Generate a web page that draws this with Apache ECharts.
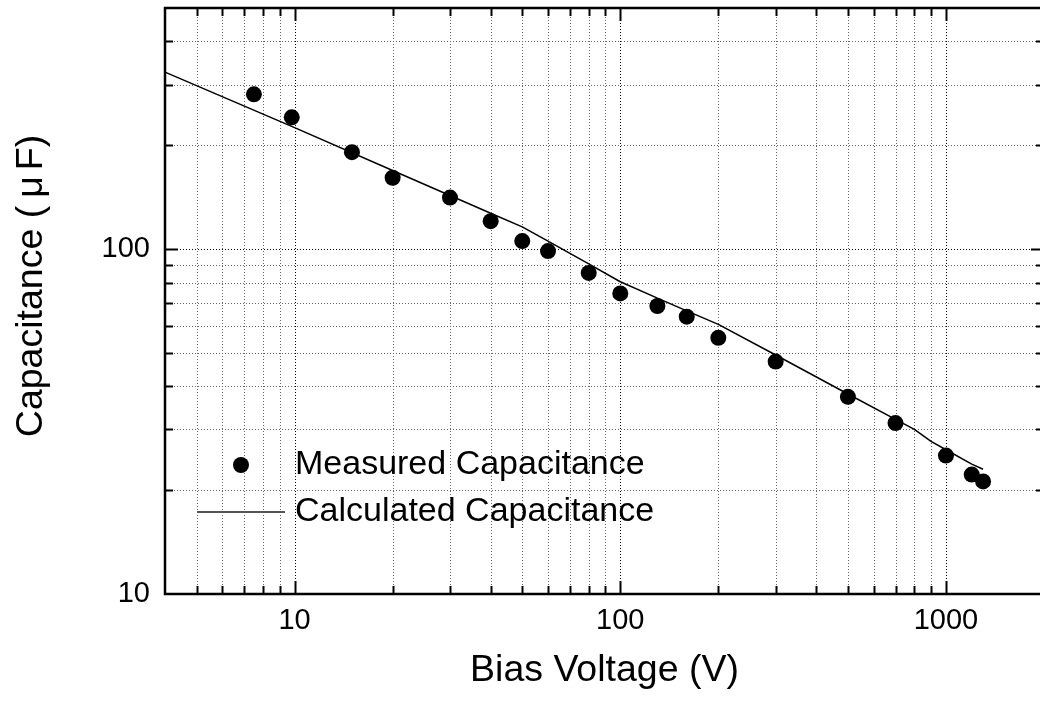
<!DOCTYPE html>
<html>
<head>
<meta charset="utf-8">
<script src="https://cdn.jsdelivr.net/npm/echarts@6/dist/echarts.min.js"></script>
<style>
html,body{margin:0;padding:0;background:#fff;}
#chart{width:1040px;height:705px;}
</style>
</head>
<body>
<div id="chart"></div>
<script>
// ---- data ----
const measuredVoltage = [7.5, 9.8, 15, 20, 30, 40, 50, 60, 80, 100, 130, 160, 200, 300, 500, 700, 1000, 1200, 1300];
const measuredCap     = [281, 241, 191, 161, 141, 120.5, 105.5, 98.7, 85.3, 74.4, 68.4, 63.7, 55.3, 47.2, 37.3, 31.3, 25.2, 22.2, 21.2];
const calcVoltage = [4, 10, 20, 30, 40, 50, 60, 80, 100, 130, 160, 200, 300, 500, 700, 800, 900, 1000, 1200, 1300];
const calcCap     = [326, 225, 169, 143, 127, 116, 105.4, 90.6, 80.4, 72.1, 66.2, 60.5, 49.3, 38.0, 32.1, 30.0, 27.7, 26.2, 23.8, 23.0];
const xTickLabels = [10, 100, 1000];
const yTickLabels = [10, 100];
const xMajorTicks = [10, 100, 1000];
const xMinorTicks = [5, 6, 7, 8, 9, 20, 30, 40, 50, 60, 70, 80, 90, 200, 300, 400, 500, 600, 700, 800, 900];
const yMajorTicks = [100];
const yMinorTicks = [20, 30, 40, 50, 60, 70, 80, 90, 200, 300, 400];
const xRange = [4, 2000];
const yRange = [10, 500];
const seriesNames = ['Measured Capacitance', 'Calculated Capacitance'];
const xTitle = 'Bias Voltage (V)';
const yTitleParts = ['Capacitance (', '\u03bc', 'F)'];

// ---- build ----
const FONT = '"Liberation Sans", Arial, sans-serif';
const gridItems = [];
xMajorTicks.forEach(v => gridItems.push([v, yRange[0], 0, 1]));
xMinorTicks.forEach(v => gridItems.push([v, yRange[0], 0, 0]));
yMajorTicks.forEach(v => gridItems.push([xRange[0], v, 1, 1]));
yMinorTicks.forEach(v => gridItems.push([xRange[0], v, 1, 0]));

function renderGrid(params, api) {
  const cs = params.coordSys;
  const isY = api.value(2) === 1;
  const major = api.value(3) === 1;
  const pt = api.coord([api.value(0), api.value(1)]);
  const len = major ? 13 : 8;
  const gridStyle = {stroke: major ? '#000' : '#666', lineWidth: 1, lineDash: [1, 2]};
  const tickStyle = {stroke: '#000', lineWidth: 2};
  const children = [];
  if (!isY) {
    const x = Math.round(pt[0]) + 0.5;
    children.push({type: 'line', shape: {x1: x, y1: cs.y, x2: x, y2: cs.y + cs.height}, style: gridStyle});
    children.push({type: 'line', shape: {x1: x, y1: cs.y, x2: x, y2: cs.y + len}, style: tickStyle});
    children.push({type: 'line', shape: {x1: x, y1: cs.y + cs.height - len, x2: x, y2: cs.y + cs.height}, style: tickStyle});
  } else {
    const y = Math.round(pt[1]) + 0.5;
    children.push({type: 'line', shape: {x1: cs.x, y1: y, x2: cs.x + cs.width, y2: y}, style: gridStyle});
    children.push({type: 'line', shape: {x1: cs.x, y1: y, x2: cs.x + len, y2: y}, style: tickStyle});
    children.push({type: 'line', shape: {x1: cs.x + cs.width - len, y1: y, x2: cs.x + cs.width, y2: y}, style: tickStyle});
  }
  return {type: 'group', children: children};
}

const chart = echarts.init(document.getElementById('chart'), null, {renderer: 'canvas'});
chart.setOption({
  animation: false,
  backgroundColor: '#fff',
  textStyle: {fontFamily: FONT},
  grid: {
    left: 165, right: -4, top: 8, bottom: 111,
    show: true, borderColor: '#000', borderWidth: 2.5, backgroundColor: 'transparent',
    containLabel: false, outerBoundsMode: 'none'
  },
  legend: {
    orient: 'vertical', left: 196, top: 448, padding: 0,
    itemWidth: 88, itemHeight: 16, itemGap: 13,
    textStyle: {fontSize: 34, color: '#000', fontFamily: FONT, padding: [0, 0, 0, 5]},
    data: [
      {name: seriesNames[0], icon: 'circle', itemStyle: {color: '#000', opacity: 1}},
      {name: seriesNames[1], itemStyle: {color: 'rgba(0,0,0,0)', opacity: 0, borderWidth: 0},
       lineStyle: {color: '#555', width: 2, opacity: 1}}
    ]
  },
  xAxis: {
    type: 'log', logBase: 10, min: xRange[0], max: xRange[1],
    name: xTitle, nameLocation: 'middle', nameGap: 58,
    nameTextStyle: {fontSize: 37.5, color: '#000', fontFamily: FONT},
    axisLine: {show: false}, axisTick: {show: false}, splitLine: {show: false}, minorTick: {show: false},
    axisLabel: {
      fontSize: 29, color: '#000', fontFamily: FONT, margin: 12,
      formatter: v => { const r = Math.round(v); return xTickLabels.includes(r) ? String(r) : ''; }
    }
  },
  yAxis: {
    type: 'log', logBase: 10, min: yRange[0], max: yRange[1],
    name: yTitleParts[0] + '{m|' + yTitleParts[1] + '}' + yTitleParts[2],
    nameLocation: 'middle', nameGap: 114, nameRotate: 90,
    nameTextStyle: {
      fontSize: 37.5, color: '#000', fontFamily: FONT, padding: [0, 0, 0, 30],
      rich: {m: {fontSize: 37.5, color: '#000', fontFamily: FONT, padding: [0, 6, 0, 8]}}
    },
    axisLine: {show: false}, axisTick: {show: false}, splitLine: {show: false}, minorTick: {show: false},
    axisLabel: {
      fontSize: 29, color: '#000', fontFamily: FONT, margin: 15,
      formatter: v => { const r = Math.round(v); return yTickLabels.includes(r) ? String(r) : ''; }
    }
  },
  series: [
    {
      type: 'custom', name: '__grid', renderItem: renderGrid, data: gridItems,
      encode: {x: 0, y: 1}, z: 1, silent: true, clip: false
    },
    {
      type: 'scatter', name: seriesNames[0],
      data: measuredVoltage.map((v, i) => [v, measuredCap[i]]),
      symbol: 'circle', symbolSize: 16, itemStyle: {color: '#000', opacity: 1}, z: 5
    },
    {
      type: 'line', name: seriesNames[1],
      data: calcVoltage.map((v, i) => [v, calcCap[i]]),
      symbol: 'none', lineStyle: {color: '#000', width: 1.5}, itemStyle: {color: '#000'}, z: 4
    }
  ]
});
</script>
</body>
</html>
